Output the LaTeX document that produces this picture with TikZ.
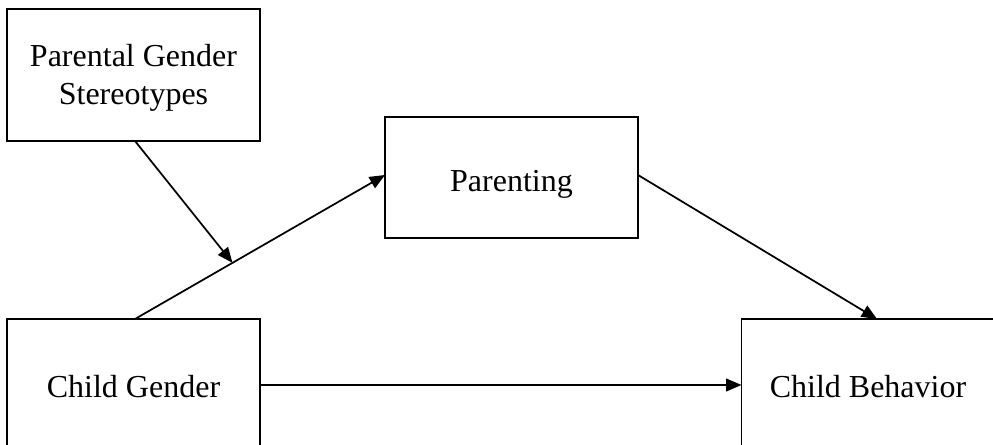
\documentclass[tikz,border=0pt]{standalone}
\usepackage{fontspec}
\setmainfont{Liberation Serif}
\usetikzlibrary{arrows.meta,calc}
\begin{document}
\begin{tikzpicture}[x=0.75pt,y=-0.75pt,
  box/.style={draw,line width=1.3pt,inner sep=0pt,outer sep=0pt},
  txt/.style={align=center,font=\fontsize{24}{28.5}\selectfont,inner sep=0pt},
  conn/.style={line width=1.3pt,-{Triangle[length=11.5pt,width=9.5pt]}}]
\useasboundingbox (0,0) rectangle (993,445);
\clip (0,0) rectangle (993,445);
\node[box,minimum width=189.75pt,minimum height=99pt,
  label={[txt,yshift=-2.5pt]center:Parental Gender\\Stereotypes}] (pgs) at (133.5,75) {};
\node[box,minimum width=189.75pt,minimum height=90.75pt,
  label={[txt,yshift=-5.5pt]center:Parenting}] (par) at (511.5,177.5) {};
\node[box,minimum width=189.75pt,minimum height=99pt,
  label={[txt,yshift=-1pt]center:Child Gender}] (cg) at (133.5,385) {};
\node[box,minimum width=189.75pt,minimum height=99pt,
  label={[txt,yshift=-1pt]center:Child Behavior}] (cb) at (868,385) {};
\coordinate (cgtop) at ($(cg.north)+(1.5,0)$);
\coordinate (parin) at ($(par.west)+(0,-2.5)$);
\coordinate (mid) at ($(cgtop)!0.39!(parin)$);
\coordinate (cbtop) at ($(cb.north)+(9,0)$);
\draw[conn] (cgtop) -- (parin);
\draw[conn] ($(pgs.south)+(1.5,0)$) -- (mid);
\draw[conn] ($(par.east)+(0,-2.5)$) -- (cbtop);
\draw[conn] (cg.east) -- (cb.west);
\end{tikzpicture}
\end{document}
